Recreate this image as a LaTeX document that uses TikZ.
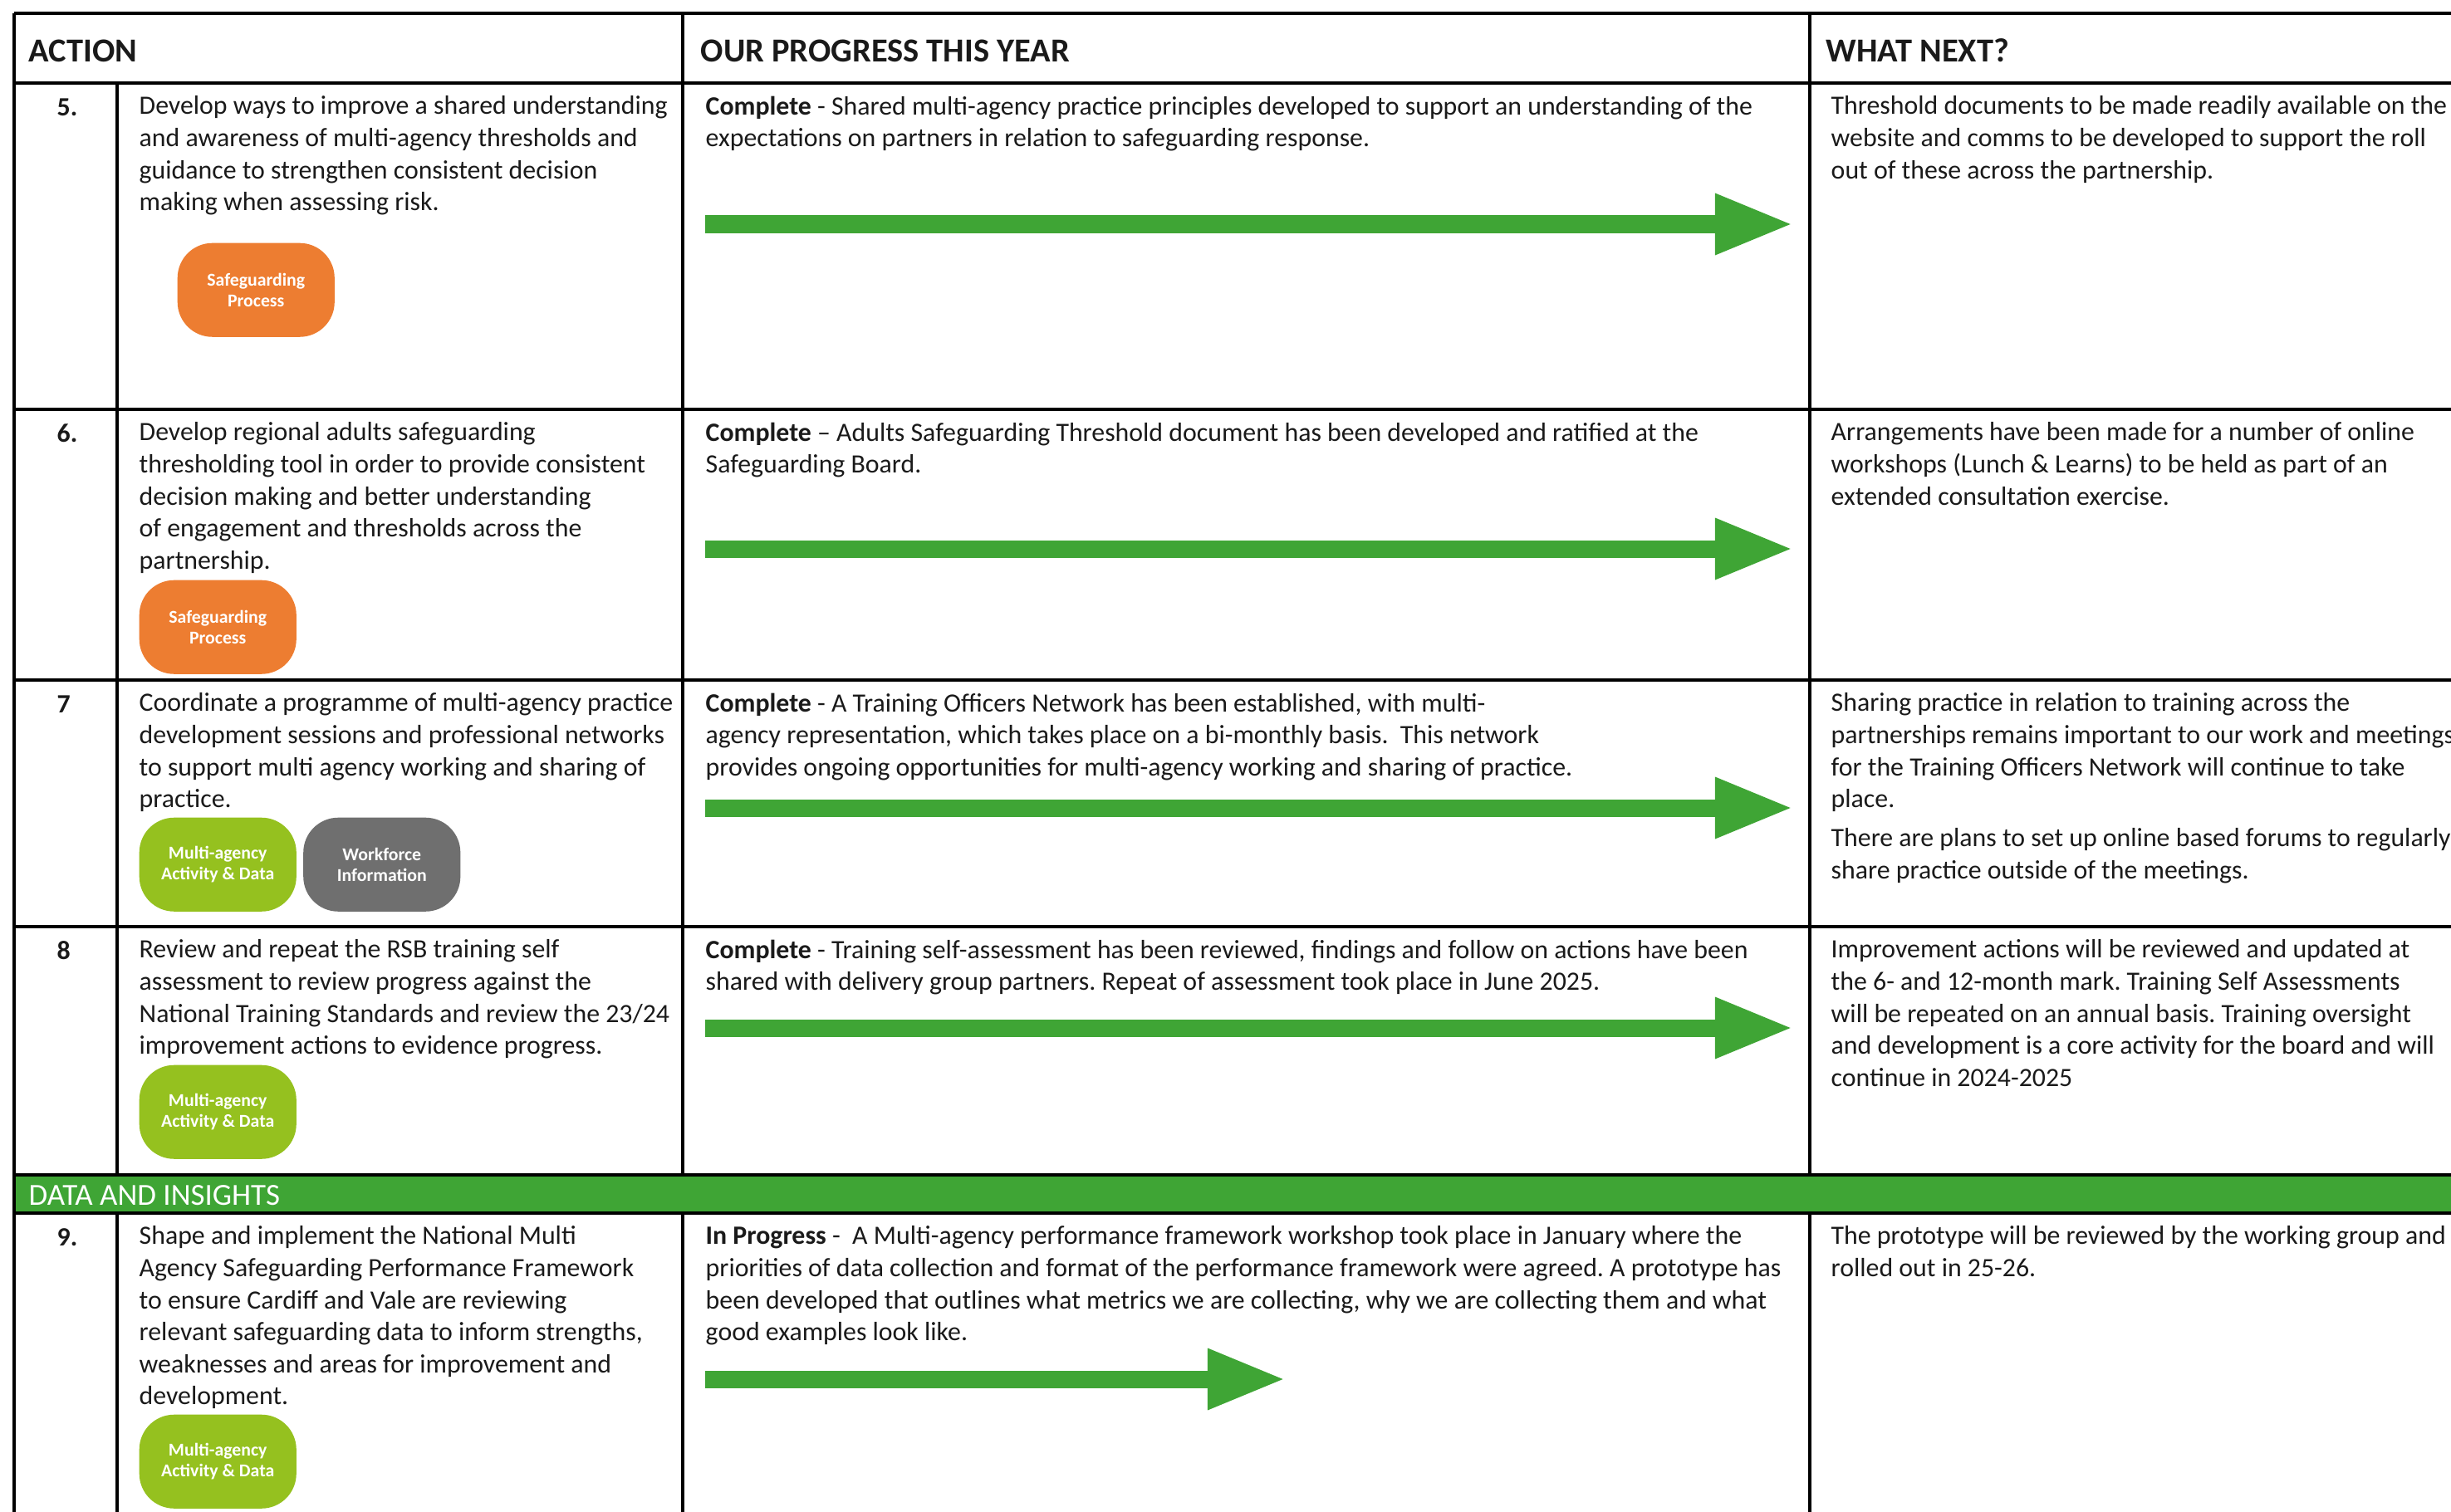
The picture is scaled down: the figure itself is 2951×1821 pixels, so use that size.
\documentclass[tikz,border=0pt]{standalone}
\usepackage{fontspec}
\setmainfont{Carlito}
\usepackage{xcolor}
\usepackage{tikz}
\usetikzlibrary{arrows.meta}
\usetikzlibrary{positioning, calc}
\definecolor{boardgreen}{HTML}{3FA535}
\definecolor{badgelime}{HTML}{95C11F}
\definecolor{badgeorange}{HTML}{ED7D31}
\definecolor{badgegrey}{HTML}{6F6F6F}
\definecolor{inktext}{HTML}{1A1A1A}
\frenchspacing
\newcommand{\bodyfont}{\fontsize{9.05}{10.98}\selectfont}
\newcommand{\headfont}{\fontsize{11.5}{13}\selectfont\bfseries}
\newcommand{\badgefont}{\fontsize{6.2}{7.1}\selectfont\bfseries}

\tikzset{
    rule/.style={line width=0.9pt},
    cell/.style={anchor=north west, inner sep=0pt, align=left, font=\bodyfont, text=inktext,
        execute at begin node=\strut},
    heading/.style={anchor=base west, inner sep=0pt, font=\headfont, text=inktext},
    rownum/.style={anchor=base west, inner sep=0pt, font=\bodyfont\bfseries, text=inktext},
    badge/.style={anchor=north west, fill=#1, rounded corners=0.42cm, minimum width=1.89cm,
        minimum height=1.13cm, inner sep=0pt, align=center, font=\badgefont, text=white},
    progress/.style={draw=boardgreen, line width=0.21cm, -{Triangle[length=0.94cm,width=0.68cm]}}
}

\begin{document}
\begin{tikzpicture}[x=0.01cm, y=-0.01cm]
    \useasboundingbox (0,0) rectangle (2951,1821);
    \clip (0,0) rectangle (2951,1821);

    % section band
    \fill[boardgreen] (17,1415) rectangle (2960,1461);

    % table rules
    \foreach \y in {16, 100, 493, 819, 1116, 1415, 1461}
        \draw[rule] (17,\y) -- (2960,\y);
    \draw[rule] (17,16) -- (17,1830);
    \foreach \x in {822, 2179}
        \draw[rule] (\x,16) -- (\x,1415) (\x,1461) -- (\x,1830);
    \draw[rule] (141,100) -- (141,1415) (141,1461) -- (141,1830);

    % headings
    \node[heading] (hAction) at (34,74) {ACTION};
    \node[heading] (hProgress) at (843,74) {OUR PROGRESS THIS YEAR};
    \node[heading] (hNext) at (2198,74) {WHAT NEXT?};
    \node[heading, font=\fontsize{10.5}{12}\selectfont, text=white] (hData) at (34,1451) {DATA AND INSIGHTS};

    % row numbers
    \foreach \n/\y/\m in {5/139/5., 6/532/6., 7/858/7, 8/1155/8, 9/1500/9.}
        \node[rownum] (num\n) at (68,\y) {\m};

    % actions (tops sit one strut above the first baseline)
    \node[cell] (act5) at (167,115) {Develop ways to improve a shared understanding\\
        and awareness of multi-agency thresholds and\\
        guidance to strengthen consistent decision\\
        making when assessing risk.};
    \node[cell] (act6) at (167,508) {Develop regional adults safeguarding\\
        thresholding tool in order to provide consistent\\
        decision making and better understanding\\
        of engagement and thresholds across the\\
        partnership.};
    \node[cell] (act7) at (167,834) {Coordinate a programme of multi-agency practice\\
        development sessions and professional networks\\
        to support multi agency working and sharing of\\
        practice.};
    \node[cell] (act8) at (167,1131) {Review and repeat the RSB training self\\
        assessment to review progress against the\\
        National Training Standards and review the 23/24\\
        improvement actions to evidence progress.};
    \node[cell] (act9) at (167,1476) {Shape and implement the National Multi\\
        Agency Safeguarding Performance Framework\\
        to ensure Cardiff and Vale are reviewing\\
        relevant safeguarding data to inform strengths,\\
        weaknesses and areas for improvement and\\
        development.};

    % badges
    \node[badge=badgeorange] (sp5) at (213,292) {Safeguarding\\Process};
    \node[badge=badgeorange] (sp6) at (167,698) {Safeguarding\\Process};
    \node[badge=badgelime] (ma7) at (167,984) {Multi-agency\\Activity \& Data};
    \node[badge=badgegrey, right=0.07cm of ma7.north east, anchor=north west] (wf7) {Workforce\\Information};
    \node[badge=badgelime] (ma8) at (167,1282) {Multi-agency\\Activity \& Data};
    \node[badge=badgelime] (ma9) at (167,1703) {Multi-agency\\Activity \& Data};

    % progress
    \node[cell] (prog5) at (849,115) {\textbf{Complete} - Shared multi-agency practice principles developed to support an understanding of the\\
        expectations on partners in relation to safeguarding response.};
    \node[cell] (prog6) at (849,508) {\textbf{Complete} -- Adults Safeguarding Threshold document has been developed and ratified at the\\
        Safeguarding Board.};
    \node[cell] (prog7) at (849,834) {\textbf{Complete} - A Training Officers Network has been established, with multi-\\
        agency representation, which takes place on a bi-monthly basis.\ \ This network\\
        provides ongoing opportunities for multi-agency working and sharing of practice.};
    \node[cell] (prog8) at (849,1131) {\textbf{Complete} - Training self-assessment has been reviewed, findings and follow on actions have been\\
        shared with delivery group partners. Repeat of assessment took place in June 2025.};
    \node[cell] (prog9) at (849,1476) {\textbf{In Progress} -\ \ A Multi-agency performance framework workshop took place in January where the\\
        priorities of data collection and format of the performance framework were agreed. A prototype has\\
        been developed that outlines what metrics we are collecting, why we are collecting them and what\\
        good examples look like.};

    \foreach \y/\t in {270/2159, 661/2159, 973/2159, 1238/2159, 1661/1548}
        \draw[progress] (849,\y) -- (\t,\y);

    % what next
    \node[cell] (next5) at (2204,115) {Threshold documents to be made readily available on the\\
        website and comms to be developed to support the roll\\
        out of these across the partnership.};
    \node[cell] (next6) at (2204,508) {Arrangements have been made for a number of online\\
        workshops (Lunch \& Learns) to be held as part of an\\
        extended consultation exercise.};
    \node[cell] (next7) at (2204,834) {Sharing practice in relation to training across the\\
        partnerships remains important to our work and meetings\\
        for the Training Officers Network will continue to take\\
        place.\\[2.4pt]
        There are plans to set up online based forums to regularly\\
        share practice outside of the meetings.};
    \node[cell] (next8) at (2204,1131) {Improvement actions will be reviewed and updated at\\
        the 6- and 12-month mark. Training Self Assessments\\
        will be repeated on an annual basis. Training oversight\\
        and development is a core activity for the board and will\\
        continue in 2024-2025};
    \node[cell] (next9) at (2204,1476) {The prototype will be reviewed by the working group and\\
        rolled out in 25-26.};
\end{tikzpicture}
\end{document}
